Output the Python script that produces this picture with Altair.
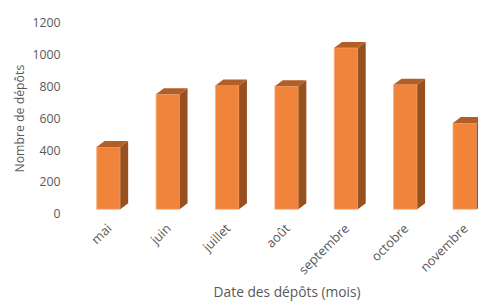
import altair as alt
import pandas as pd

mois = ["mai", "juin", "juillet", "août", "septembre", "octobre", "novembre"]
depots = [420, 750, 805, 800, 1040, 810, 570]
y_ticks = [0, 200, 400, 600, 800, 1000, 1200]

# 3D look (pixel-derived constants)
STEP_PX = 60.4
N = len(mois)
RANGE_W = STEP_PX * N
PX_PER_UNIT = 195 / 1200.0
DX = 8 / STEP_PX          # depth in band-steps
DY = 6 / PX_PER_UNIT      # depth in value units
HALF = 12 / STEP_PX       # half front width in band-steps
BASE = 30                 # floor of the front face

FRONT = "#F0843A"
TOP = "#B35E26"
SIDE = "#99501F"
FONT = "Open Sans"
GREY = "#595959"

front_df = pd.DataFrame({"mois": mois, "depots": depots, "base": [BASE] * N})

rows = []
for i, (m, v) in enumerate(zip(mois, depots)):
    c = i + 0.5
    xl, xr = c - HALF, c + HALF
    # side face
    rows.append({"g": f"s{i}", "x": xr, "y": v, "y2": BASE, "face": "side"})
    rows.append({"g": f"s{i}", "x": xr + DX, "y": v + DY, "y2": BASE + DY, "face": "side"})
    # top face
    rows.append({"g": f"t{i}", "x": xl, "y": v, "y2": v, "face": "top"})
    rows.append({"g": f"t{i}", "x": xl + DX, "y": v + DY, "y2": v, "face": "top"})
    rows.append({"g": f"t{i}", "x": xr, "y": v + DY, "y2": v, "face": "top"})
    rows.append({"g": f"t{i}", "x": xr + DX, "y": v + DY, "y2": v + DY, "face": "top"})
deco_df = pd.DataFrame(rows)

yscale = alt.Scale(domain=[0, 1200], nice=False, zero=True)
y_axis = alt.Axis(title="Nombre de dépôts", values=y_ticks, format="d",
                  labelOverlap=False, grid=False, ticks=False, domain=False,
                  labelPadding=19, titlePadding=6, labelFont=FONT, labelFontSize=12.5,
                  labelColor=GREY, titleFont=FONT, titleFontSize=12.5,
                  titleColor=GREY, titleFontWeight="normal")

front = alt.Chart(front_df).mark_bar(color=FRONT, stroke="#F7B081", strokeWidth=0.8).encode(
    x=alt.X("mois:N", sort=mois,
            scale=alt.Scale(range=[0, RANGE_W], paddingInner=1 - 24 / STEP_PX,
                            paddingOuter=(1 - 24 / STEP_PX) / 2),
            axis=alt.Axis(title="Date des dépôts (mois)", labelAngle=-45, ticks=False,
                          domain=False, labelPadding=8, labelOffset=-3, titlePadding=9,
                          labelFont=FONT, labelFontSize=13, labelColor=GREY,
                          titleFont=FONT, titleFontSize=14, titleColor=GREY,
                          titleFontWeight="normal")),
    y=alt.Y("depots:Q", scale=yscale, axis=y_axis),
    y2="base:Q",
)

deco = alt.Chart(deco_df).mark_area(interpolate="linear").encode(
    x=alt.X("x:Q", scale=alt.Scale(domain=[0, N], range=[0, RANGE_W], nice=False, zero=False),
            axis=None),
    y=alt.Y("y:Q", scale=yscale, axis=y_axis),
    y2="y2:Q",
    detail="g:N",
    color=alt.Color("face:N", scale=alt.Scale(domain=["top", "side"], range=[TOP, SIDE]),
                    legend=None),
)

chart = alt.layer(front, deco).resolve_scale(x="independent").properties(
    width=406, height=195,
    autosize=alt.AutoSizeParams(type="none"),
    padding={"left": 72, "top": 12, "right": 0, "bottom": 89},
).configure_view(stroke=None).configure_axis(labelOverlap=False)

chart.save("out.html", embed_options={"renderer": "svg", "actions": False})
